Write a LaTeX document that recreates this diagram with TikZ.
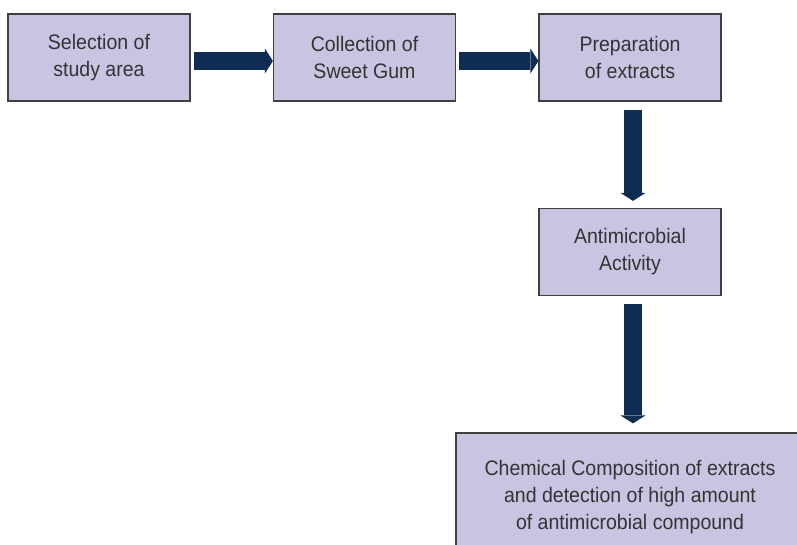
\documentclass[tikz,border=0pt]{standalone}
\usepackage{fontspec}
\setmainfont{Liberation Sans}[FakeStretch=0.93]
\usetikzlibrary{arrows.meta}
\definecolor{boxfill}{HTML}{C8C5E2}
\definecolor{boxline}{HTML}{404040}
\definecolor{navy}{HTML}{0F2D52}
\definecolor{textgray}{HTML}{333333}

\begin{document}
\begin{tikzpicture}[x=1pt, y=-1pt, node distance={265.5pt},
    box/.style={draw=boxline, line width=1.2pt, fill=boxfill, text=textgray,
      align=center, font=\fontsize{21}{27}\selectfont, inner sep=0pt,
      minimum width=182pt, minimum height=87pt},
    flow/.style={draw=navy, line width=18pt,
      -{Triangle[width=25pt, length=8pt, line width=0pt]}}]
    \clip (0,0) rectangle (797,544);

    \node[box] (area) at (99,57.5) {Selection of\\study area};
    \node[box] (gum) [right of=area] {Collection of\\Sweet Gum};
    \node[box] (extr) [right of=gum] {Preparation\\of extracts};
    \node[box, node distance=194.5pt] (anti) [below of=extr] {Antimicrobial\\Activity};
    \node[box, node distance=245.5pt, minimum width=348pt, minimum height=129pt] (chem) [below of=anti]
      {Chemical Composition of extracts\\and detection of high amount\\of antimicrobial compound};

    \draw[flow] ([xshift=3pt, yshift=-3.5pt]area.east) -- ([yshift=-3.5pt]gum.west);
    \draw[flow] ([xshift=3pt, yshift=-3.5pt]gum.east) -- ([yshift=-3.5pt]extr.west);
    \draw[flow] ([xshift=3pt, yshift=-8pt]extr.south) -- ([xshift=3pt, yshift=7pt]anti.north);
    \draw[flow] ([xshift=3pt, yshift=-8pt]anti.south) -- ([xshift=3pt, yshift=9pt]chem.north);
  \end{tikzpicture}
\end{document}
